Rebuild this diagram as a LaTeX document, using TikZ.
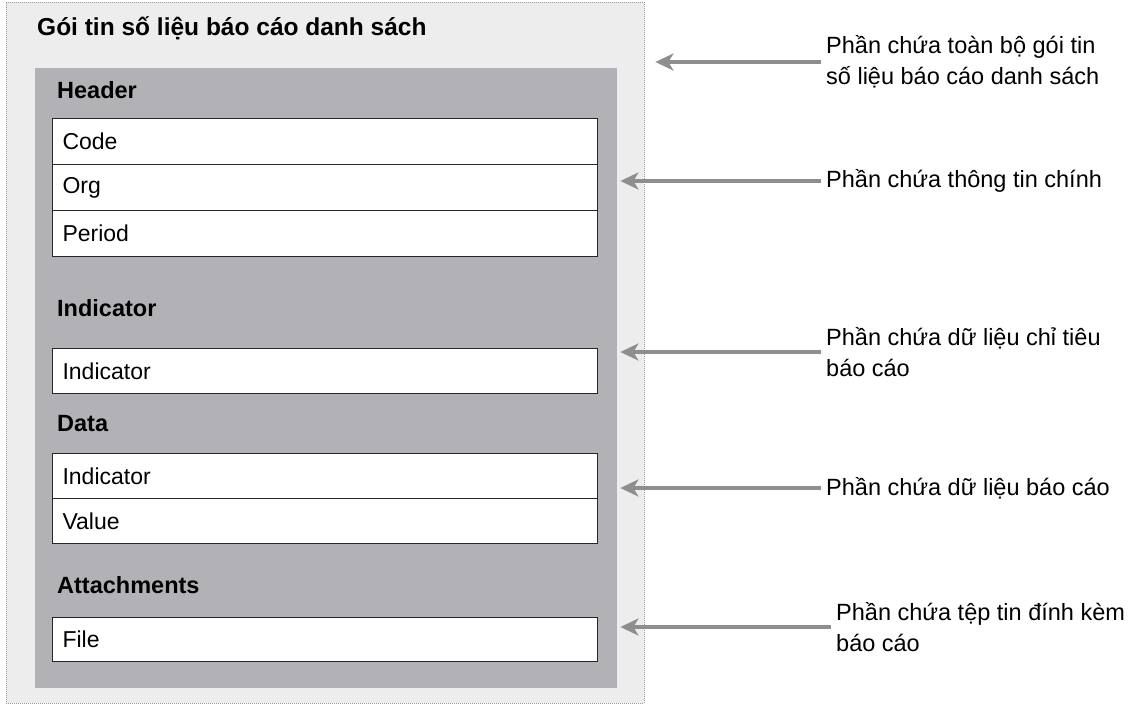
\documentclass[tikz,border=0pt]{standalone}
\usepackage{fontspec}
\setmainfont{Liberation Sans}
\usetikzlibrary{arrows.meta,calc}
\definecolor{innergray}{HTML}{B2B2B6}
\definecolor{outergray}{HTML}{EDEDED}
\definecolor{arrowgray}{HTML}{8E8E8E}
\begin{document}
\begin{tikzpicture}[x=1pt,y=-1pt,
  outerbox/.style={draw=black!40, dash pattern=on 1pt off 1pt, fill=outergray, inner sep=0, anchor=north west},
  innerbox/.style={fill=innergray, inner sep=0, anchor=north west},
  itembox/.style={draw=black!85, line width=1.1pt, fill=white, minimum width=545pt, text width=525pt, inner xsep=10pt, inner ysep=0pt, align=left, anchor=north west, font=\fontsize{23}{27}\selectfont},
  sect/.style={font=\bfseries\fontsize{23.5}{27}\selectfont, anchor=west, inner sep=0pt},
  note/.style={font=\fontsize{23.5}{31}\selectfont, anchor=west, inner sep=0pt, align=left},
  arr/.style={draw=arrowgray, line width=3.5pt, -{Stealth[length=18pt,width=17pt,inset=5pt,fill=arrowgray]}, shorten <=5pt}
]
\fill[white] (0,0) rectangle (1148,706);
\useasboundingbox (0,0) rectangle (1148,706);

\node[outerbox, minimum width=638pt, minimum height=701pt] (outer) at (6,2) {};
\node[innerbox, minimum width=582pt, minimum height=620pt] (inner) at (35,68) {};

\node[sect, font=\bfseries\fontsize{24.5}{28}\selectfont] (title) at (37,28) {Gói tin số liệu báo cáo danh sách};

\node[sect] (hdr) at (57,90) {Header};
\node[itembox, minimum height=46pt] (code) at (52,118) {Code};
\node[itembox, minimum height=46pt] (org) at (52,164) {Org};
\node[itembox, minimum height=46pt] (period) at (52,210) {Period};

\node[sect] (ind) at (57,308) {Indicator};
\node[itembox, minimum height=45pt] (indbox) at (52,348) {Indicator};

\node[sect] (data) at (57,424) {Data};
\node[itembox, minimum height=45pt] (dind) at (52,453) {Indicator};
\node[itembox, minimum height=45pt] (dval) at (52,498) {Value};

\node[sect] (att) at (57,585) {Attachments};
\node[itembox, minimum height=44pt] (file) at (52,617) {File};

\node[note] (n1) at (826,62) {Phần chứa toàn bộ gói tin\\số liệu báo cáo danh sách};
\node[note] (n2) at (826,181) {Phần chứa thông tin chính};
\node[note] (n3) at (826,352) {Phần chứa dữ liệu chỉ tiêu\\báo cáo};
\node[note] (n4) at (826,488) {Phần chứa dữ liệu báo cáo};
\node[note] (n5) at (836,627) {Phần chứa tệp tin đính kèm\\báo cáo};

\coordinate (t1) at ($(outer.east)+(11,0)$);
\coordinate (t2) at ($(inner.east)+(3,0)$);
\draw[arr] (n1.west) -- (n1.west -| t1);
\draw[arr] (n2.west) -- (n2.west -| t2);
\draw[arr] (n3.west) -- (n3.west -| t2);
\draw[arr] (n4.west) -- (n4.west -| t2);
\draw[arr] (n5.west) -- (n5.west -| t2);
\end{tikzpicture}
\end{document}
